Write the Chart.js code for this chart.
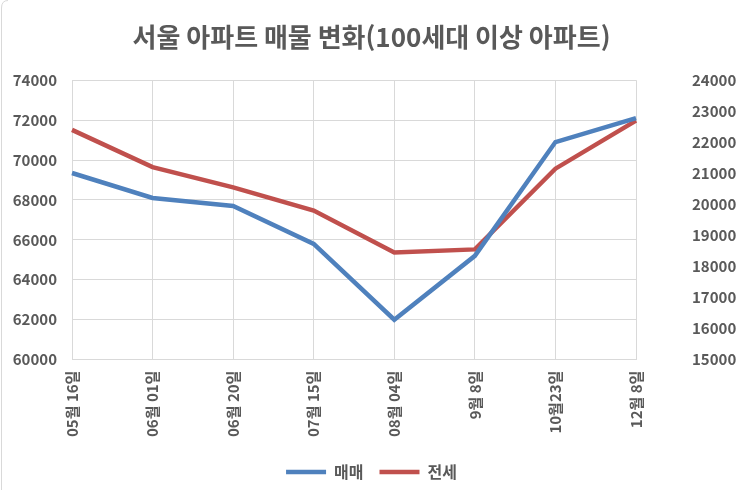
<!DOCTYPE html>
<html lang="ko">
<head>
  <meta charset="UTF-8">
  <title>서울 아파트 매물 변화</title>
  <script src="https://cdn.jsdelivr.net/npm/chart.js"></script>
  <style>
    html, body { margin: 0; padding: 0; background: #fff; }
    .chart-box { width: 743px; height: 490px; position: relative; }
  </style>
</head>
<body>

<div class="chart-box">
  <canvas id="myChart" width="743" height="490"></canvas>
</div>

<script>
  // values
  const dates = ['05월 16일', '06월 01일', '06월 20일', '07월 15일', '08월 04일', '9월 8일', '10월23일', '12월 8일'];
  const sales = [69350, 68100, 67700, 65800, 62000, 65200, 70900, 72100];   // 매매 (left axis)
  const jeonse = [22400, 21200, 20550, 19800, 18450, 18550, 21150, 22700];  // 전세 (right axis)
  const leftTicks = [60000, 62000, 64000, 66000, 68000, 70000, 72000, 74000];
  const rightTicks = [15000, 16000, 17000, 18000, 19000, 20000, 21000, 22000, 23000, 24000];

  const textColor = '#595959';
  const gridColor = '#d9d9d9';
  const font = 'Noto Sans CJK KR';

  // white background and the thin frame line on the left
  const frame = {
    id: 'frame',
    beforeDraw(chart) {
      const c = chart.ctx;
      c.save();
      c.fillStyle = '#fff';
      c.fillRect(0, 0, chart.width, chart.height);
      c.strokeStyle = '#d9d9d9';
      c.lineWidth = 1;
      c.beginPath();
      c.moveTo(1.5, chart.height);
      c.lineTo(1.5, 8);
      c.quadraticCurveTo(1.5, 0.5, 8, 0.5);
      c.stroke();
      c.restore();
    }
  };

  let ctx = document.getElementById('myChart').getContext('2d');
  let myChart = new Chart(ctx, {
    type: 'line',
    data: {
      labels: dates,
      datasets: [{
        label: '매매',
        data: sales,
        yAxisID: 'y',
        borderColor: '#4f81bd',
        backgroundColor: '#4f81bd',
        borderWidth: 4.5,
        pointRadius: 0,
        tension: 0,
        fill: false
      }, {
        label: '전세',
        data: jeonse,
        yAxisID: 'y1',
        borderColor: '#c0504d',
        backgroundColor: '#c0504d',
        borderWidth: 4.5,
        pointRadius: 0,
        tension: 0,
        fill: false
      }]
    },
    options: {
      responsive: false,
      animation: false,
      layout: { padding: { left: 0, right: 0, top: 0, bottom: 0 } },
      plugins: {
        title: {
          display: true,
          text: '서울 아파트 매물 변화(100세대 이상 아파트)',
          color: textColor,
          font: { family: font, size: 26, weight: 'bold' },
          padding: { top: 22, bottom: 27 }
        },
        legend: {
          position: 'bottom',
          labels: {
            usePointStyle: true,
            pointStyle: 'line',
            pointStyleWidth: 40,
            padding: 16,
            color: textColor,
            font: { family: font, size: 16, weight: 'bold' }
          }
        },
        tooltip: { enabled: false }
      },
      scales: {
        x: {
          offset: false,
          grid: { color: gridColor, lineWidth: 1, drawTicks: false },
          border: { color: gridColor },
          ticks: {
            color: textColor,
            font: { family: font, size: 15, weight: 'bold' },
            minRotation: 90,
            maxRotation: 90,
            padding: 11,
            autoSkip: false
          }
        },
        y: {
          position: 'left',
          min: 60000,
          max: 74000,
          afterBuildTicks(axis) { axis.ticks = leftTicks.map(v => ({ value: v })); },
          afterFit(axis) { axis.width = 72; },
          grid: { color: gridColor, lineWidth: 1, drawTicks: false },
          border: { display: false },
          ticks: {
            color: textColor,
            font: { family: font, size: 15, weight: 'bold' },
            padding: 15,
            autoSkip: false,
            callback: v => String(v)
          }
        },
        y1: {
          position: 'right',
          min: 15000,
          max: 24000,
          afterBuildTicks(axis) { axis.ticks = rightTicks.map(v => ({ value: v })); },
          afterFit(axis) { axis.width = 107; },
          grid: { display: false, drawTicks: false },
          border: { display: false },
          ticks: {
            color: textColor,
            font: { family: font, size: 15, weight: 'bold' },
            padding: 56,
            autoSkip: false,
            callback: v => String(v)
          }
        }
      }
    },
    plugins: [frame]
  });
</script>

</body>
</html>
